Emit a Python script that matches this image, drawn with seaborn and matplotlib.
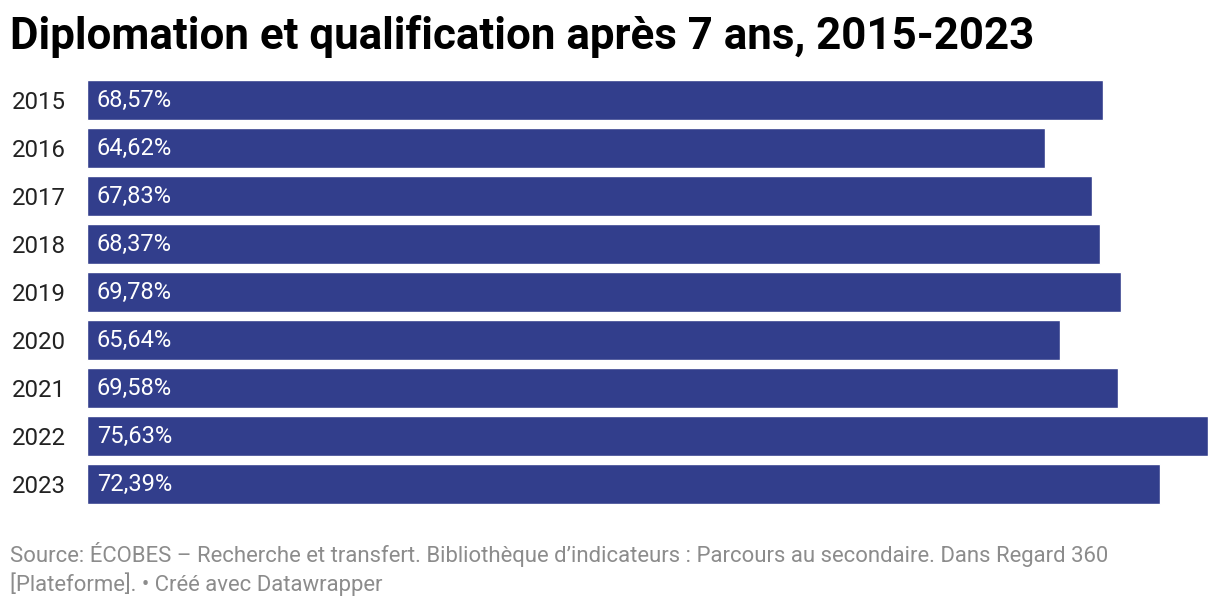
import pandas as pd
import matplotlib.pyplot as plt
import seaborn as sns

years = ['2015', '2016', '2017', '2018', '2019', '2020', '2021', '2022', '2023']
rates = [68.57, 64.62, 67.83, 68.37, 69.78, 65.64, 69.58, 75.63, 72.39]

title = 'Diplomation et qualification après 7 ans, 2015-2023'
source = ('Source: ÉCOBES – Recherche et transfert. Bibliothèque d\u2019indicateurs : '
          'Parcours au secondaire. Dans Regard 360\n[Plateforme]. • Créé avec Datawrapper')

df = pd.DataFrame({'Année': years, 'Taux': rates})

sns.set_style('white')
plt.rcParams['font.family'] = ['Roboto', 'DejaVu Sans']

fig = plt.figure(figsize=(12.2, 6.06), dpi=100)
ax = fig.add_axes([87 / 1220, 1 - 508 / 606, (1208 - 87) / 1220, 432 / 606])

sns.barplot(data=df, x='Taux', y='Année', color='#323e8c', saturation=1,
            width=40 / 48, ax=ax)

ax.set_xlim(0, max(rates))
ax.set_ylim(len(years) - 0.5, -0.5)

# value labels inside the bars
for i, v in enumerate(rates):
    ax.annotate(f'{v:.2f}%'.replace('.', ','), xy=(0, i), xytext=(7, 0),
                textcoords='offset points', va='center', ha='left',
                color='white', fontsize=17)

ax.set_xlabel('')
ax.set_ylabel('')
ax.set_xticks([])
ax.tick_params(axis='y', length=0, pad=15, labelsize=17.3, labelcolor='#222222')
sns.despine(ax=ax, left=True, bottom=True)

fig.text(10 / 1220, 1 - 37 / 606, title, fontsize=31.6, fontweight='bold',
         va='center', ha='left', color='black')
fig.text(10 / 1220, 1 - 542 / 606, source, fontsize=15.9, color='#8c8c8c',
         va='top', ha='left', linespacing=1.3)

fig.savefig('out.png', dpi=100)
